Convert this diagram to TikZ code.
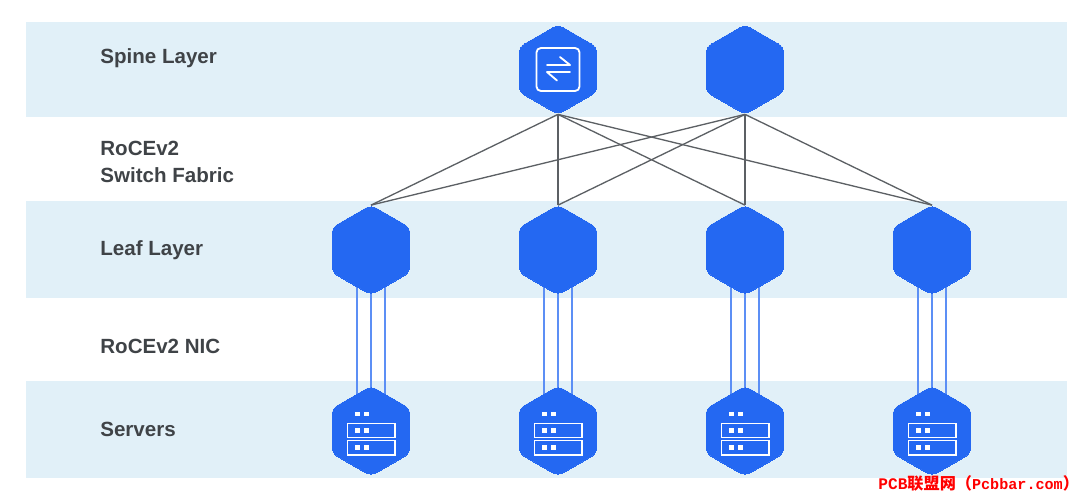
\documentclass[tikz,border=0pt]{standalone}
\usepackage{fontspec}
\setmainfont{Liberation Sans}
\newfontfamily\cjk{Noto Sans CJK SC}
\newfontfamily\markmono{Liberation Mono}
\usetikzlibrary{shapes.geometric, backgrounds, calc}

\definecolor{bandblue}{HTML}{E1F0F8}
\definecolor{hexblue}{HTML}{2468F2}
\definecolor{wireblue}{HTML}{5C8FF5}
\definecolor{linkgray}{HTML}{5C6064}
\definecolor{labelgray}{HTML}{3F4347}

\tikzset{
	hexnode/.style={regular polygon, regular polygon sides=6, shape border rotate=30,
		minimum size=1.795cm, inner sep=0pt, outer sep=0pt, fill=hexblue, draw=hexblue,
		line width=0pt, rounded corners=3.5pt},
	layerlabel/.style={anchor=base west, align=left, inner sep=0pt, text=labelgray,
		font=\fontsize{11.7}{15.3}\selectfont\bfseries},
	fabriclink/.style={linkgray, line width=0.75pt},
	niclink/.style={wireblue, line width=0.85pt},
	iconline/.style={white, line width=1.05pt},
	switchicon/.pic={
		\draw[iconline, rounded corners=2.5pt] (-21.5,-21.5) rectangle (21.5,21.5);
		\draw[iconline, line cap=round, line join=round] (-11,-4.5) -- (12,-4.5) -- (2,-12.5);
		\draw[iconline, line cap=round, line join=round] (12,2.5) -- (-11,2.5) -- (-1,11);
	},
	servericon/.pic={
		\draw[iconline] (-23.5,-7.5) rectangle (24,6.5);
		\draw[iconline] (-23.5,9.5) rectangle (24,24);
		\foreach \dy in {-17,-0.5,16.5}
		\foreach \dx in {-13.5,-4.5}
		\fill[white] (\dx-2.4,\dy-2.4) rectangle (\dx+2.4,\dy+2.4);
	},
}

\begin{document}
\begin{tikzpicture}[x=0.02cm, y=-0.02cm]
	\useasboundingbox (0,0) rectangle (1080,498);
	% horizontal layer bands
	\begin{pgfonlayer}{background}
		\fill[bandblue] (26,22) rectangle (1067,117);
		\fill[bandblue] (26,201) rectangle (1067,298);
		\fill[bandblue] (26,381) rectangle (1067,478);
	\end{pgfonlayer}
	% labels on the left
	\node[layerlabel] (spinelabel) at (100,63.5) {Spine Layer};
	\node[layerlabel] (fabriclabel) at (100,182) {RoCEv2\\Switch Fabric};
	\node[layerlabel] (leaflabel) at (100,255.5) {Leaf Layer};
	\node[layerlabel] (niclabel) at (100,353.5) {RoCEv2 NIC};
	\node[layerlabel] (serverlabel) at (100,436.5) {Servers};
	% spine switches
	\node[hexnode] (sp1) at (558,69.5) {};
	\node[hexnode] (sp2) at (745,69.5) {};
	\pic at (sp1.center) {switchicon};
	% leaf switches and servers
	\foreach \i/\x in {1/371,2/558,3/745,4/932} {
		\node[hexnode] (lf\i) at (\x,250) {};
		\node[hexnode] (sv\i) at (\x,431) {};
		\pic at (sv\i.center) {servericon};
	}
	% links stay behind the hexagons
	\begin{pgfonlayer}{background}
		\foreach \s in {1,2}
		\foreach \i in {1,2,3,4}
		\draw[fabriclink] (sp\s.south) -- (lf\i.north);
		\foreach \i in {1,2,3,4}
		\foreach \d in {-14,0,14}
		\draw[niclink] ($(lf\i.center)+(\d,0)$) -- ($(sv\i.center)+(\d,0)$);
	\end{pgfonlayer}
	% site mark, bottom right
	\node[anchor=west, inner sep=0pt, text=red, font=\fontsize{9.2}{12}\selectfont] (sitemark) at (878,483)
	{\markmono\bfseries PCB\cjk 联盟网（{\markmono\fontsize{8.6}{12}\selectfont Pcbbar.com}\cjk ）\hspace*{-0.6em}};
\end{tikzpicture}
\end{document}
